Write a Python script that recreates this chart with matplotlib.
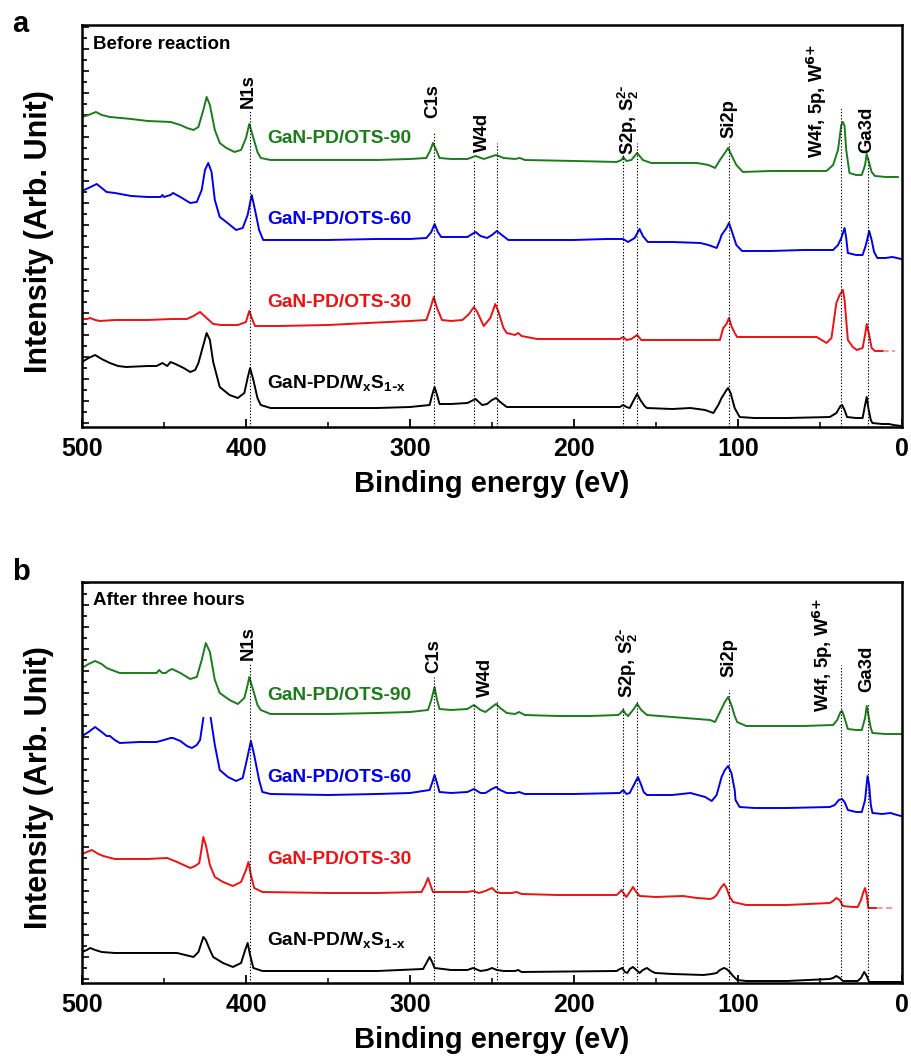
import numpy as np
import matplotlib
matplotlib.use('Agg')
import matplotlib.pyplot as plt

plt.rcParams['font.family'] = ['Liberation Sans', 'DejaVu Sans']
plt.rcParams['font.weight'] = 'bold'
plt.rcParams['mathtext.default'] = 'regular'

# ---------------- data (binding energy eV, intensity arb. units) ----------------
green_a = [(500,310),(496,312),(491.5,315),(488,312),(483,310),(470,308),(460,306),(446,305),(440,302),(436,299),
           (432,297),(429,300),(426,317),(424,330),(422,322),(419,297),(416,284),(412,279),(407,275),(403,277),
           (400,289),(398,303),(396,292),(393,275),(391,269),(385,267),(350,267),(320,267),(300,268),(290,269),
           (287.5,277),(286,284),(284,277),(282,269),(275,268),(265,268),(260,271),(255,268),(247.5,272),(243,269),
           (236,268),(233,269),(230,267),(200,266),(174,265),(171,267),(170,270),(168,266),(165,267),(161.5,274),
           (158,267),(153,264),(140,264),(125,264),(118,262),(114,259),(111,267),(108,274),(106,279),(104,272),
           (101,262),(97,255),(80,256),(60,256),(46,256),(42,262),(39,277),(37,302),(36,305),(35,301),
           (34,277),(32,254),(28,252),(24.5,252),(22.5,262),(21.5,273),(20.5,267),(18.5,255),(16.5,251),(10,250),(2.5,250)]

blue_a = [(500,236),(496,239),(491,243),(488,239),(485,235),(480,234),(470,231),(460,230),(452,230),(451,232),
          (450,230),(446,232),(444.5,234),(440,230),(434,224),(430,225),(427,237),(425,257),(423,264),(421,255),
          (419,227),(416,210),(412,205),(406,197),(402,199),(399,212),(396.5,232),(394.5,217),(392,197),(389.5,187),
          (380,187),(350,187),(320,188),(300,188),(290,189),(287,195),(285,203),(283,195),(281,190),(275,190),
          (265,190),(260,195),(257,191),(253,189),(250,192),(247,196),(244,192),(240,187),(220,187),(200,187),
          (180,188),(170.5,188),(169,187),(167,185),(163,189),(160,198),(158,191),(155,185),(140,185),(123,184),
          (118,182),(113,179),(111,187),(110,192),(107,199),(105.5,204),(104,197),(101,182),(97.5,176),(80,176),
          (60,177),(42,177),(39,182),(37,189),(35,199),(34,189),(33,174),(28,172),(24,172),(22,182),
          (20,196),(18.5,187),(17,175),(15,169),(10,169),(6,170),(3,169),(0.5,168)]

red_a = [(500,108),(497,108),(495,109),(492,107),(489,106),(480,107),(460,107),(445,108),(436,108),(432,111),
         (428,115),(424,109),(420,103),(415,102),(405,102),(400,105),(398,116),(396,107),(394.5,101),(380,101),
         (350,102),(326,104),(300,106),(290,107),(287.5,119),(285.5,130),(283.5,119),(280.5,107),(275,106),(268,107),
         (264,113),(261,120),(259,115),(255,101),(251,109),(248,123),(246,115),(243,99),(241,94),(236,92),
         (234,94),(232,91),(222.5,88),(200,88),(172,88),(170,90),(168,87),(165,88),(161.5,92),(159,87),
         (150,87),(130,87),(111,87),(109,99),(107,103),(105.5,109),(104,101),(102,94),(100.5,90),(80,90),
         (60,90),(52,90),(48,86),(46,84),(43,89),(40,124),(38,132),(36,137),(35,127),(33,87),
         (30,80),(27.5,77),(24,79),(22.5,92),(21.5,103),(20,92),(18.5,79),(16.5,76),(12,76)]
red_a_tail = [(12,76),(4,76)]

black_a = [(500,65),(496,69),(492,72),(488,68),(483,64),(478,61),(473,60),(460,61),(454.5,61),(451,64),
           (448,61),(446,65),(443,63),(438,59),(434,55),(431,57),(429,64),(426,82),(424,94),(422,87),
           (420,65),(416,40),(410,32),(405,29),(401,34),(399,49),(397.5,59),(395.5,47),(393,29),(391,22),
           (385,19),(350,19),(320,19),(300,20),(288,22),(286.5,32),(285,40),(283.5,32),(282,23),(275,23),
           (265,24),(260,28),(256,22),(253,23),(250,27),(247.5,29),(245,25),(241,20),(220,20),(190,20),
           (172,20),(170,22),(168,20),(166,19),(163.5,27),(161.5,33),(159.5,27),(157,21),(155.5,19),(140,18),
           (129,19),(120,17),(115,14),(112,22),(110,29),(107,37),(106,39),(104.5,34),(102,19),(99,10),
           (90,9),(70,9),(44,10),(40,14),(37.5,21),(36.5,22),(35,17),(33.5,10),(28,9),(24,9),
           (22.5,22),(21.5,30),(20.5,19),(19,7),(18,4),(12,3),(8,3),(5,2),(0.5,1)]

green_b = [(500,315),(496,319),(492,322),(488,319),(485,315),(477,310),(465,310),(454.5,310),(453,313),(451,310),
           (449,310),(446.5,313),(445,314),(440,310),(434,304),(430,306),(427,323),(424.5,340),(422,331),(419,303),
           (416,290),(410,283),(405,279),(401,285),(399,298),(398,306),(396,295),(393,278),(391,273),(385,269),
           (350,269),(320,270),(300,271),(289,273),(287,283),(285,296),(283.5,283),(282,274),(275,273),(265,274),
           (261,278),(257,273),(254,271),(250,276),(247.5,279),(245,275),(241,270),(236,269),(233.5,271),(230,268),
           (210,267),(190,267),(173,268),(171.5,270),(170,273),(168.5,269),(167,267),(164,273),(161.5,279),(159,273),
           (155.5,268),(140,266),(117,263),(114,261),(111,271),(108,281),(106,286),(104,278),(102,267),(100.5,261),
           (95,257),(80,257),(60,257),(42,258),(39.5,263),(37.5,271),(36.5,272),(35,265),(33,254),(28,253),
           (24.5,253),(22.5,265),(21.5,277),(20.5,268),(19,255),(18,250),(10,249),(0.5,249)]

blue_b = [(500,247),(496,251),(492,256),(488,251),(485,247),(483,247),(480,243),(477,240),(465,241),(454.5,241),
          (450,243),(446,245),(444.5,245),(440,242),(436,237),(433,235),(430,238),(428,243),(426,265),(424,np.nan),
          (421.5,265),(419,238),(416,213),(411,206),(406,202),(402,205),(399.5,223),(397,242),(395,228),(392,203),
          (390,191),(385,189),(350,188),(320,189),(300,190),(288,193),(286.5,200),(285,208),(283.5,200),(282,191),
          (275,190),(265,191),(261,194),(257,190),(254,190),(250,194),(247.5,196),(245,193),(241,190),(236,190),
          (233.5,191),(230,189),(200,189),(172,190),(170,193),(168,189),(166,190),(163.5,198),(161,206),(159,198),
          (157.5,191),(155.5,188),(140,188),(129,190),(120,186),(116,182),(113,188),(110,206),(108,213),(106,217),
          (104,210),(102,193),(101.5,183),(99,176),(90,175),(70,175),(44,176),(41,178),(38.5,183),(36.5,184),
          (35,181),(33,173),(28,171),(24.5,171),(22.5,183),(21,207),(20,198),(19,178),(18,170),(12,169),
          (7,170),(3,168),(0.5,167)]

red_b = [(500,129),(497,131),(494,133),(490,129),(487,127),(480,124),(460,124),(448,125),(442,121),(438,118),
         (434,115),(431,117),(428.5,120),(427,135),(426,146),(424.5,138),(422,118),(419,106),(414,101),(408,97),
         (403,101),(400,113),(398.5,121),(397,108),(395,95),(390,91),(350,90),(320,90),(293,91),(291,97),
         (289,105),(287.5,98),(286,91),(275,91),(265,91),(261.5,92),(258,90),(254,92),(250,95),(247.5,91),
         (245,90),(238,90),(235,91),(232,89),(210,88),(174,88),(172,91),(171,93),(169,88),(168,86),
         (166,91),(164,96),(162,91),(160,87),(150,86),(133.5,87),(125,85),(117,84),(115,85),(113,88),
         (110.5,95),(108.5,99),(107,95),(105,86),(103,81),(95,78),(70,78),(44,80),(42,82),(40,85),
         (38,83),(36,77),(30,76),(27,76),(25,83),(23.5,91),(22.5,95),(21.5,88),(20.5,75),(16,75)]
red_b_tail = [(16,75),(6,75)]

black_b = [(500,31),(497,33),(495,35),(492,33),(488,31),(480,30),(460,30),(442,30),(437,28),(432,26),
           (429,31),(427,41),(426,46),(424.5,43),(422,33),(420,26),(414,20),(408,16),(403,20),(400.5,33),
           (399,40),(397.5,28),(395.5,15),(390,12),(350,12),(320,12),(292,14),(290,20),(288,26),(286.5,21),
           (285,15),(275,13),(265,13),(261.5,15),(257,12),(253,13),(250,15),(247,13),(243,12),(236,12),
           (234,13),(232,11),(174,12),(172,14),(170.5,15),(169,11),(167.5,10),(166,14),(164,16),(162,13),
           (160,10),(158,13),(155.5,15),(153,12),(150.5,10),(140,9),(121,8),(116,9),(113,10),(111,13),
           (108.5,15),(107,14),(105,11),(103,7),(100.5,3),(95,2),(70,2),(44,4),(42,5),(40,7),
           (38,5),(36,2),(27,2),(25,5),(23,11),(21.5,7),(20,1),(10,1),(0.5,1)]

sample_names = ['GaN-PD/OTS-90', 'GaN-PD/OTS-60', 'GaN-PD/OTS-30', r'GaN-PD/W$_x$S$_{1\text{-}x}$']
sample_colors = ['#1a7d1a', '#0000ee', '#ee1111', '#000000']

peak_names = ['N1s', 'C1s', 'W4d', r'S2p, S$_2^{2\text{-}}$', 'Si2p', r'W4f, 5p, W$^{\text{6+}}$', 'Ga3d']
peak_label_E_a = [398.5, 286.3, 255.5, 167.0, 105.2, 52.0, 21.6]
peak_label_I_a = [319, 309, 275, 272, 289, 269, 274]
peak_label_E_b = [398.8, 285.7, 254.0, 167.4, 105.2, 48.0, 21.6]
peak_label_I_b = [323, 310, 286, 285, 306, 271, 291]

line_E = [397.5, 285.5, 260.8, 247.0, 170.0, 161.4, 105.5, 37.0, 20.5]
line_top_a = [317, 295, 267, 284, 272, 284, 284, 319, 270]
line_top_b = [320, 306, 280, 283, 276, 283, 293, 318, 280]

name_E = 387.2
name_I_a = [284, 203, 120, 39]
name_I_b = [283, 201, 119, 38]

xticks = [500, 400, 300, 200, 100, 0]

# ---------------- figure ----------------
fig = plt.figure(figsize=(9.12, 10.58), dpi=100)
axa = fig.add_axes([0.0899, 0.5964, 0.8991, 0.380])
axb = fig.add_axes([0.0899, 0.0709, 0.8991, 0.379])


def panel(ax, series, tail, ylim, lE, lI, ltop, nI, title, label_y):
    for s, c in zip(series, sample_colors):
        e, v = zip(*s)
        ax.plot(e, v, color=c, lw=1.4, solid_joinstyle='round')
    te, tv = zip(*tail)
    ax.plot(te, tv, color=sample_colors[2], lw=1.2, alpha=0.5, ls=(0, (4, 2)))
    for e, t in zip(line_E, ltop):
        ax.plot([e, e], [0, t], color='black', lw=0.8, ls=(0, (1.2, 1.6)))
    for name, e, i in zip(peak_names, lE, lI):
        ax.text(e, i, name, rotation=90, ha='center', va='bottom', fontsize=13.3,
                fontweight='bold')
    for name, c, i in zip(sample_names, sample_colors, nI):
        ax.text(name_E, i, name, color=c, fontsize=13.8, fontweight='bold',
                ha='left', va='baseline')
    ax.text(0.0134, label_y, title, transform=ax.transAxes, fontsize=13.5,
            fontweight='bold', ha='left', va='baseline')
    ax.set_xlim(500, 0)
    ax.set_ylim(*ylim)
    ax.set_xticks(xticks)
    ax.set_xticklabels([str(t) for t in xticks])
    ax.set_xticks(np.arange(450, 0, -100), minor=True)
    ax.set_yticks(np.arange(4, ylim[1], 22))
    ax.set_yticks(np.arange(15, ylim[1], 22), minor=True)
    ax.set_yticklabels([])
    ax.tick_params(axis='x', which='major', direction='in', length=6, width=1.3,
                   labelsize=18, pad=7, top=False)
    ax.tick_params(axis='x', which='minor', direction='in', length=3.5, width=1.1, top=False)
    ax.tick_params(axis='y', which='both', direction='in', length=5, width=1.2,
                   right=False, left=True)
    ax.tick_params(axis='y', which='minor', length=3.5)
    for sp in ax.spines.values():
        sp.set_linewidth(1.8)
    ax.set_xlabel('Binding energy (eV)', fontsize=21, fontweight='bold')
    ax.set_ylabel('Intensity (Arb. Unit)', fontsize=22, fontweight='bold')
    ax.xaxis.set_label_coords(0.5, -0.108)
    ax.yaxis.set_label_coords(-0.034, 0.487)


panel(axa, [green_a, blue_a, red_a, black_a], red_a_tail, (0, 402),
      peak_label_E_a, peak_label_I_a, line_top_a, name_I_a, 'Before reaction', 0.940)
panel(axb, [green_b, blue_b, red_b, black_b], red_b_tail, (0, 401),
      peak_label_E_b, peak_label_I_b, line_top_b, name_I_b, 'After three hours', 0.943)

fig.text(12 / 912, 1 - 32 / 1058, 'a', fontsize=21, fontweight='bold', ha='left', va='baseline')
fig.text(12 / 912, 1 - 580 / 1058, 'b', fontsize=21, fontweight='bold', ha='left', va='baseline')

fig.savefig('out.png', dpi=100)
